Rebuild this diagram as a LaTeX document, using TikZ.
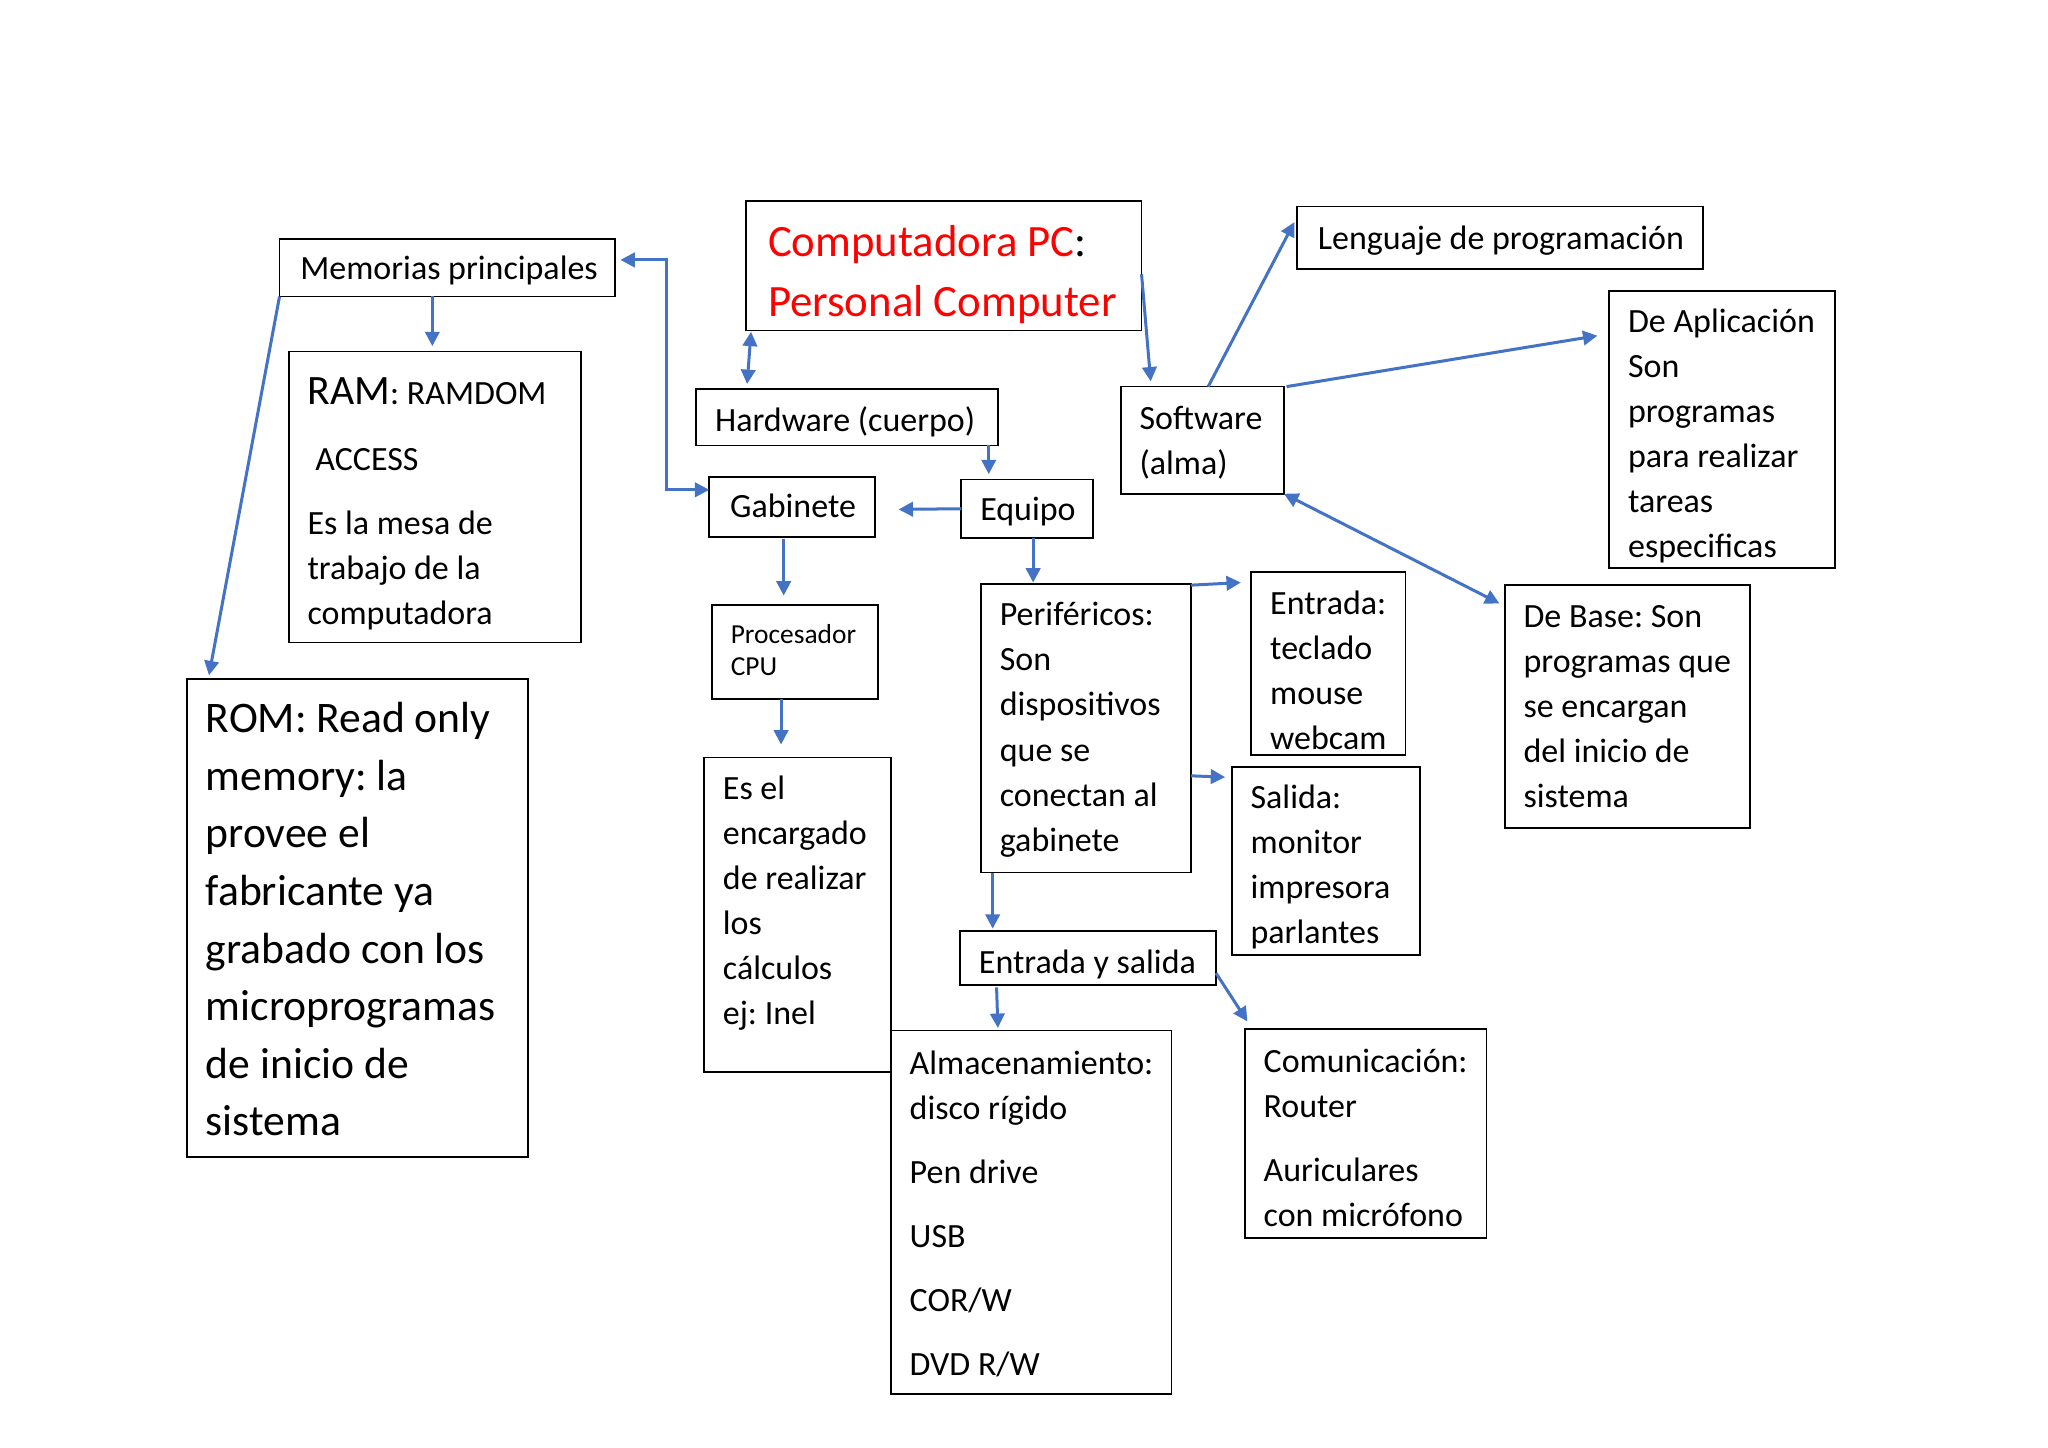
\documentclass[tikz,border=0pt]{standalone}
\usepackage{fontspec}
\setmainfont{Carlito}
\usetikzlibrary{arrows.meta}
\definecolor{arrblue}{HTML}{4472C4}
\definecolor{titred}{HTML}{FF0000}
\frenchspacing
\tikzset{
  box/.style={draw=black, line width=1.3pt, inner sep=0pt, outer sep=0pt, rectangle},
  txt/.style={inner sep=0pt, outer sep=0pt, align=left, font=\fontsize{26}{34.5}\selectfont\frenchspacing},
  romfont/.style={font=\fontsize{33.4}{44.1}\selectfont\frenchspacing},
  titfont/.style={font=\fontsize{34.3}{46}\selectfont\frenchspacing},
  procfont/.style={font=\fontsize{21}{25}\selectfont\frenchspacing},
  arr/.style={draw=arrblue, line width=2.3pt, -{Triangle[length=11pt,width=11pt]}},
  arrb/.style={draw=arrblue, line width=2.3pt, {Triangle[length=11pt,width=11pt]}-{Triangle[length=11pt,width=11pt]}},
}
% name, x1, y1, x2, y2, text options, text
\newcommand\dbox[7]{%
  \node[box, minimum width={(#4-#2)*1pt}, minimum height={(#5-#3)*1pt}] (#1) at ({(#2+#4)/2},{(#3+#5)/2}) {};
  \node[txt, anchor=west, #6] (#1-t) at ([xshift=14.5pt]#1.west) {\strut#7\strut};
}
\begin{document}
\begin{tikzpicture}[x=1pt,y=-1pt]
\fill[white] (0,0) rectangle (1568,1108.6);
\useasboundingbox (0,0) rectangle (1568,1108.6);

\dbox{mem}{214}{183}{471}{227}{xshift=1.5pt,yshift=-2pt}{Memorias principales}
\dbox{ram}{221}{269}{445}{492}{yshift=-6.5pt}{{\fontsize{32}{34.5}\selectfont RAM}: RAMDOM\\[16.5pt]\hspace*{6pt}ACCESS\\[14.5pt]Es la mesa de\\trabajo de la\\computadora}
\dbox{rom}{143}{520}{404}{886}{romfont,yshift=-3.5pt}{ROM: Read only\\memory: la\\provee el\\fabricante ya\\grabado con los\\microprogramas\\de inicio de\\sistema}
\dbox{title}{571}{154}{874}{253}{titfont,xshift=2.5pt,yshift=-6.5pt}{{\color{titred}Computadora PC}:\\{\color{titred}Personal Computer}}
\dbox{hw}{533}{298}{764}{341}{yshift=-4pt}{Hardware (cuerpo)}
\dbox{gab}{543}{365}{670}{411}{xshift=1.5pt,yshift=-1.5pt}{Gabinete}
\dbox{eq}{736}{367}{837}{412}{yshift=-2pt}{Equipo}
\dbox{sw}{858}{296}{983}{378}{yshift=-2pt}{Software\\(alma)}
\dbox{len}{993}{158}{1304}{206}{xshift=1.5pt,yshift=-2pt}{Lenguaje de programación}
\dbox{apl}{1232}{223}{1405}{435}{yshift=-5pt}{De Aplicación\\Son\\programas\\para realizar\\tareas\\especificas}
\dbox{base}{1152}{448}{1340}{634}{yshift=-1.5pt}{De Base: Son\\programas que\\se encargan\\del inicio de\\sistema}
\dbox{proc}{545}{463}{672}{535}{procfont,yshift=-1pt}{Procesador\\CPU}
\dbox{esel}{539}{580}{682}{821}{yshift=9pt}{Es el\\encargado\\de realizar\\los\\cálculos\\ej: Inel}
\dbox{perif}{751}{447}{912}{668}{yshift=-1pt}{Periféricos:\\Son\\dispositivos\\que se\\conectan al\\gabinete}
\dbox{ent}{958}{438}{1076}{578}{yshift=-7pt}{Entrada:\\teclado\\mouse\\webcam}
\dbox{sal}{943}{587}{1087}{731}{yshift=-5pt}{Salida:\\monitor\\impresora\\parlantes}
\dbox{eys}{735}{713}{931}{754}{yshift=-5pt}{Entrada y salida}
\dbox{alm}{682}{789}{897}{1067}{yshift=-3pt}{Almacenamiento:\\disco rígido\\[14.5pt]Pen drive\\[14.5pt]USB\\[14.5pt]COR/W\\[14.5pt]DVD R/W}
\dbox{com}{953}{788}{1138}{948}{yshift=-5.5pt}{Comunicación:\\Router\\[14.5pt]Auriculares\\con micrófono}

% connectors
\draw[arrb] ([xshift=4pt,yshift=6pt]mem.east) -- ++(35,0) |- ([yshift=13pt]gab.west);
\draw[arr] ([xshift=117pt]mem.south west) -- ([xshift=110pt,yshift=4pt]ram.north west);
\draw[arr] (mem.south west) -- ([xshift=17pt,yshift=3pt]rom.north west);
\draw[arrb] ([xshift=4pt,yshift=-1pt]title.south west) -- ([xshift=39pt,yshift=4pt]hw.north west);
\draw[arr] ([yshift=-6.5pt]title.east) -- ([xshift=23pt,yshift=4pt]sw.north west);
\draw[arr] ([xshift=-7pt]hw.south east) -- ([xshift=21pt,yshift=4pt]eq.north west);
\draw[arr] (eq.west) -- ([xshift=18pt,yshift=-2pt]gab.east);
\draw[arr] ([xshift=57pt,yshift=-2pt]gab.south west) -- ([xshift=55pt,yshift=7pt]proc.north west);
\draw[arr] ([xshift=53pt]proc.south west) -- ([xshift=59pt,yshift=10pt]esel.north west);
\draw[arr] ([xshift=55pt]eq.south west) -- ([xshift=40pt,yshift=1pt]perif.north west);
\draw[arr] ([yshift=-1pt]perif.north east) -- ([xshift=-8pt,yshift=-8pt]ent.north west);
\draw[arr] ([yshift=-36.5pt]perif.east) -- ([xshift=-5pt,yshift=-8pt]sal.north west);
\draw[arr] ([xshift=9pt]perif.south west) -- ([xshift=25pt,yshift=2pt]eys.north west);
\draw[arr] ([xshift=28pt,yshift=-2pt]eys.south west) -- ([xshift=82pt,yshift=1pt]com.north west -| alm.north west);
\draw[arr] ([yshift=-11.5pt]eys.east) -- ([xshift=2pt,yshift=6pt]com.north west);
\draw[arr] ([xshift=67pt]sw.north west) -- ([xshift=-2pt,yshift=-12pt]len.north west);
\draw[arr] ([xshift=2pt]sw.north east) -- ([xshift=-9pt,yshift=-34pt]apl.north west);
\draw[arrb] (sw.south east) -- ([xshift=-4pt,yshift=-14pt]base.north west);
\end{tikzpicture}
\end{document}
